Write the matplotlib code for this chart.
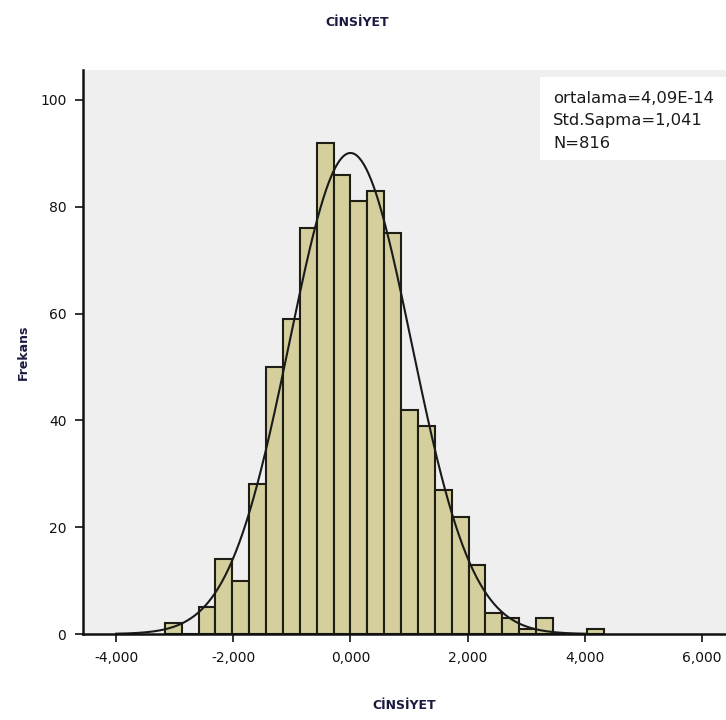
import numpy as np
import matplotlib
matplotlib.use("Agg")
import matplotlib.pyplot as plt
from matplotlib.ticker import FixedLocator
from matplotlib.patches import Rectangle

# histogram data: bin width and counts per bin
bin_width = 0.288
first_bin = -11
counts = [2, 0, 5, 14, 10, 28, 50, 59, 76, 92, 86, 81, 83, 75, 42, 39, 27, 22, 13, 4, 3, 1, 3, 0, 0, 1]

mean = 4.09e-14
std = 1.041
n = 816

x_ticks = [-4, -2, 0, 2, 4, 6]
x_labels = ["-4,000", "-2,000", "0,000", "2,000", "4,000", "6,000"]
y_ticks = [0, 20, 40, 60, 80, 100]

edges = (first_bin + np.arange(len(counts))) * bin_width

fig = plt.figure(figsize=(7.26, 7.2), dpi=100)
ax = fig.add_axes([83 / 726, 86 / 720, 643 / 726, 564 / 720])
ax.set_facecolor("#efefef")

# bars
ax.bar(edges, counts, width=bin_width, align="edge",
       color="#d4cf9c", edgecolor="#1e1e14", linewidth=1.5)

# normal curve
xs = np.linspace(-4, 4, 400)
ys = n * bin_width / (std * np.sqrt(2 * np.pi)) * np.exp(-0.5 * ((xs - mean) / std) ** 2)
ax.plot(xs, ys, color="#1a1a1a", linewidth=1.5)

ax.set_xlim(-4.565, 6.41)
ax.set_ylim(0, 105.6)

ax.xaxis.set_major_locator(FixedLocator(x_ticks))
ax.set_xticklabels(x_labels)
ax.yaxis.set_major_locator(FixedLocator(y_ticks))
ax.tick_params(axis="both", direction="out", length=6, width=1.2,
               labelsize=10, colors="#111111", pad=6)

for s in ["top", "right"]:
    ax.spines[s].set_visible(False)
for s in ["left", "bottom"]:
    ax.spines[s].set_linewidth(1.8)
    ax.spines[s].set_color("#111111")

# stats box
ax.add_patch(Rectangle(((540 - 83) / 643, (634 - 160) / 564), 0.3, 83 / 564,
                       transform=ax.transAxes, facecolor="white",
                       edgecolor="none", zorder=3))
ax.text((553 - 83) / 643, (634 - 91) / 564, "ortalama=4,09E-14\nStd.Sapma=1,041\nN=816",
        transform=ax.transAxes, ha="left", va="top", fontsize=11.8,
        linespacing=1.62, color="#1a1a1a", zorder=4)

ax.set_ylabel("Frekans", fontsize=9, fontweight="bold", color="#1a1a40", labelpad=7)
ax.set_xlabel("CİNSİYET", fontsize=9, fontweight="bold", color="#1a1a40", labelpad=25)
fig.text(357 / 726, 1 - 22 / 720, "CİNSİYET", ha="center", va="center",
         fontsize=9, fontweight="bold", color="#1a1a40")

fig.savefig("out.png", dpi=100)
